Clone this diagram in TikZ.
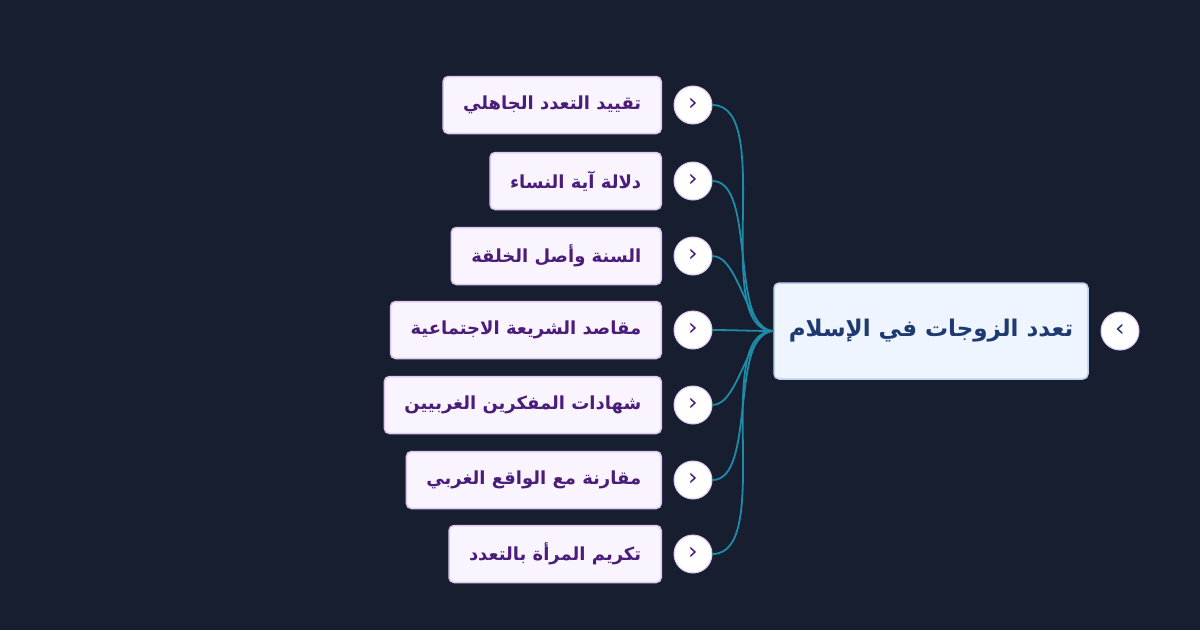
\documentclass[tikz,border=0pt]{standalone}
\usepackage{fontspec}
\newfontfamily\arabicfont[Script=Arabic]{DejaVu Sans}
\newfontfamily\symfont{DejaVu Sans}
\TeXXeTstate=1
\definecolor{bgdark}{HTML}{161E30}
\definecolor{rootfill}{HTML}{EEF5FF}
\definecolor{rootline}{HTML}{B8CFF0}
\definecolor{roottext}{HTML}{1E3A70}
\definecolor{leaffill}{HTML}{FAF4FF}
\definecolor{leafline}{HTML}{DCC6F2}
\definecolor{leaftext}{HTML}{4A1D7A}
\definecolor{wire}{HTML}{1E8CA8}
\tikzset{
  rootbox/.style={draw=rootline,line width=1.5pt,fill=rootfill,rounded corners=5pt,
    minimum width=314pt,minimum height=96pt,text=roottext,
    font=\arabicfont\bfseries\fontsize{23}{28}\selectfont},
  leafbox/.style={draw=leafline,line width=1.5pt,fill=leaffill,rounded corners=5pt,
    minimum height=57pt,anchor=east,inner xsep=20pt,text=leaftext,
    font=\arabicfont\bfseries\fontsize{18}{22}\selectfont},
  toggle/.style={draw=leafline,line width=1pt,fill=white,circle,minimum size=38pt,
    inner sep=0pt,text=leaftext,font=\symfont\fontsize{24}{24}\selectfont},
  link/.style={draw=wire,line width=1.8pt}
}
\begin{document}
\begin{tikzpicture}[x=1pt,y=-1pt]
\fill[bgdark] (0,0) rectangle (1200,630);
\useasboundingbox (0,0) rectangle (1200,630);
% root
\node[rootbox] (root) at (931,331) {\beginR تعدد الزوجات في الإسلام\endR};
\node[toggle,text=roottext] (rtog) at (1120,331) {\raisebox{2pt}{‹}};
% topics
\foreach \i/\y/\t in {1/105/تقييد التعدد الجاهلي,2/181/دلالة آية النساء,3/256/السنة وأصل الخلقة,
  4/330/مقاصد الشريعة الاجتماعية,5/405/شهادات المفكرين الغربيين,6/480/مقارنة مع الواقع الغربي,
  7/554/تكريم المرأة بالتعدد}{
  \node[leafbox] (c\i) at (662,\y) {\beginR\t\endR};
  \node[toggle] (t\i) at (693,\y) {\raisebox{2pt}{›}};
  \draw[link] (root.west) to[out=180,in=0,looseness=0.7] (t\i.east);
}
\end{tikzpicture}
\end{document}
